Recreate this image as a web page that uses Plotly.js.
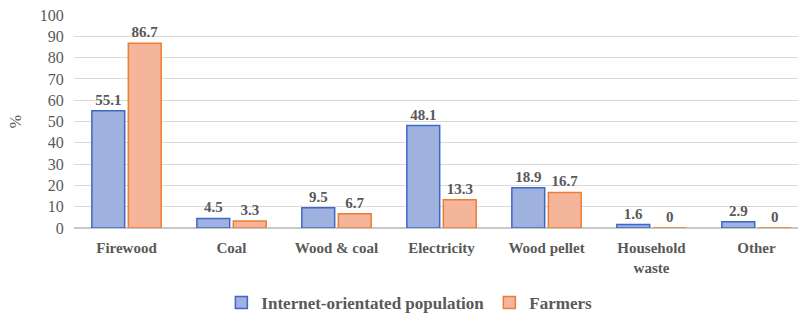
<!DOCTYPE html>
<html>
<head>
<meta charset="utf-8">
<script src="https://cdn.plot.ly/plotly-3.0.1.min.js"></script>
<style>html,body{margin:0;padding:0;background:#fff;}#chart{width:798px;height:317px;}</style>
</head>
<body>
<div id="chart"></div>
<script>
const categories = ["Firewood", "Coal", "Wood & coal", "Electricity", "Wood pellet", "Household waste", "Other"];
const tickLabels = ["Firewood", "Coal", "Wood & coal", "Electricity", "Wood pellet", "Household<br>waste", "Other"];
const internetValues = [55.1, 4.5, 9.5, 48.1, 18.9, 1.6, 2.9];
const farmerValues = [86.7, 3.3, 6.7, 13.3, 16.7, 0, 0];
const seriesNames = ["Internet-orientated population", "Farmers"];

const font = "Liberation Serif, DejaVu Serif, Noto Serif, serif";
const grey = "#595959";

const traces = [
  {
    type: "bar", name: seriesNames[0], x: categories, y: internetValues,
    marker: {color: "#9fb1de", line: {color: "#3f67c6", width: 1.5}},
    text: internetValues.map(String), textposition: "outside", cliponaxis: false,
    textfont: {family: font, size: 15, color: grey, weight: "bold"}
  },
  {
    type: "bar", name: seriesNames[1], x: categories, y: farmerValues,
    marker: {color: "#f5b59a", line: {color: "#ed7d31", width: 1.5}},
    text: farmerValues.map(String), textposition: "outside", cliponaxis: false,
    textfont: {family: font, size: 15, color: grey, weight: "bold"}
  }
];

const layout = {
  width: 798, height: 317,
  margin: {l: 74, r: 0, t: 15, b: 89},
  paper_bgcolor: "#fff", plot_bgcolor: "#fff",
  barmode: "group", bargap: 0.305, bargroupgap: 0.1,
  font: {family: font, color: grey},
  xaxis: {
    type: "category", range: [-0.5, 6.395],
    tickmode: "array", tickvals: categories, ticktext: tickLabels,
    tickfont: {family: font, size: 15, color: grey, weight: "bold"},
    ticks: "outside", ticklen: 6, tickcolor: "rgba(0,0,0,0)",
    showline: false, showgrid: false, zeroline: false
  },
  yaxis: {
    range: [0, 100], dtick: 10, tick0: 0,
    tickfont: {family: font, size: 16, color: grey},
    gridcolor: "#d9d9d9", gridwidth: 1,
    zeroline: true, zerolinecolor: "#c8c8c8", zerolinewidth: 1.5,
    ticks: "outside", ticklen: 6, tickcolor: "rgba(0,0,0,0)",
    title: {text: "%", font: {family: font, size: 16, color: grey}, standoff: 14}
  },
  showlegend: true,
  legend: {
    orientation: "h", xref: "container", yref: "container",
    x: 0.513, xanchor: "center", y: 0.044, yanchor: "middle",
    font: {family: font, size: 17, color: grey, weight: "bold"},
    itemwidth: 30, tracegroupgap: 0, traceorder: "normal"
  }
};

Plotly.newPlot("chart", traces, layout, {displayModeBar: false, staticPlot: true});
</script>
</body>
</html>
